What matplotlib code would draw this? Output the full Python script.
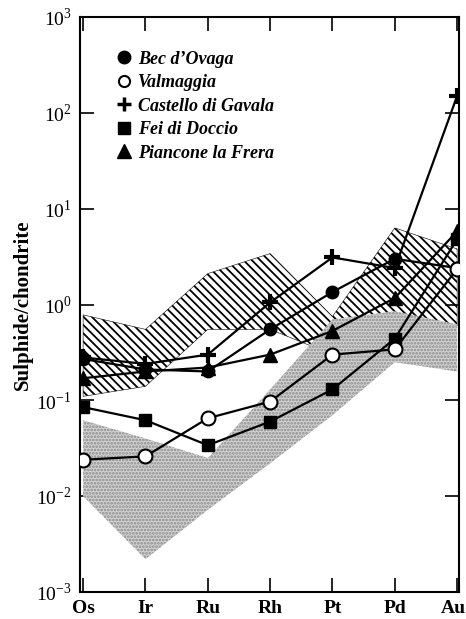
import numpy as np
import matplotlib
matplotlib.use("Agg")
import matplotlib.pyplot as plt
import matplotlib.transforms as mtransforms
from matplotlib.lines import Line2D

plt.rcParams['font.family'] = ['Liberation Serif', 'DejaVu Serif']
plt.rcParams['mathtext.fontset'] = 'custom'
plt.rcParams['mathtext.rm'] = 'Liberation Serif'
plt.rcParams['hatch.linewidth'] = 1.3

elements = ['Os', 'Ir', 'Ru', 'Rh', 'Pt', 'Pd', 'Au']

# sample series (sulphide / chondrite)
bec = [0.27, 0.21, 0.20, 0.55, 1.35, 3.0, 2.4]
valmaggia = [0.024, 0.026, 0.065, 0.097, 0.30, 0.34, 2.35]
castello = [0.28, 0.24, 0.30, 1.05, 3.1, 2.4, 150]
fei = [0.085, 0.062, 0.034, 0.060, 0.13, 0.44, 4.8]
piancone = [0.17, 0.20, 0.22, 0.30, 0.53, 1.17, 5.8]

# hatched field
hatch_upper = [0.78, 0.55, 2.1, 3.4, 0.75, 6.3, 3.8]
hatch_lower = [0.11, 0.14, 0.55, 0.55, 0.30, 0.70, 0.60]

# stippled field
stip_upper = [0.062, 0.040, 0.025, 0.13, 0.70, 0.85, 0.62]
stip_lower = [0.010, 0.0022, 0.0072, 0.022, 0.070, 0.25, 0.20]

x = np.arange(len(elements))

fig = plt.figure(figsize=(4.66, 6.19), dpi=100)
ax = fig.add_axes([80/466, 1-592/619, 379/466, 575/619])

ax.fill_between(x, hatch_lower, hatch_upper, facecolor='white', edgecolor='black',
                hatch='\\\\\\\\', linewidth=0.4, zorder=1)
ax.fill_between(x, stip_lower, stip_upper, facecolor='#d2d2d2', edgecolor='#8a8a8a',
                hatch='.....', linewidth=0, zorder=2)

lw = 1.6
ax.plot(x, bec, '-o', color='black', lw=lw, ms=9, mfc='black', zorder=5)
ax.plot(x, valmaggia, '-o', color='black', lw=lw, ms=10, mfc='white', mew=1.5, zorder=6)
ax.plot(x, castello, '-+', color='black', lw=lw, ms=12, mew=3, zorder=5)
ax.plot(x, fei, '-s', color='black', lw=lw, ms=9, mfc='black', zorder=5)
ax.plot(x, piancone, '-^', color='black', lw=lw, ms=10, mfc='black', zorder=4)

ax.set_yscale('log')
ax.set_ylim(1e-3, 1e3)
ax.set_xlim(-0.05, 6.03)
ax.set_xticks(x)
ax.set_xticklabels(elements, fontsize=14, fontweight='bold')
yt = [1e-3, 1e-2, 1e-1, 1e0, 1e1, 1e2, 1e3]
ax.set_yticks(yt)
ax.set_yticklabels(['$10^{%d}$' % p for p in range(-3, 4)], fontsize=14)
ax.minorticks_off()
ax.tick_params(direction='in', length=10, width=1.2, top=True, right=True)
ax.tick_params(axis='x', pad=6)
ax.tick_params(axis='y', pad=6)
for s in ax.spines.values():
    s.set_linewidth(1.5)

# keep the last label inside the figure
au = ax.get_xticklabels()[-1]
au.set_transform(au.get_transform() + mtransforms.ScaledTranslation(-4/100, 0, fig.dpi_scale_trans))

ax.set_ylabel('Sulphide/chondrite', fontsize=15, fontweight='bold', labelpad=2)

handles = [
    Line2D([], [], ls='none', marker='o', color='black', ms=9),
    Line2D([], [], ls='none', marker='o', color='black', mfc='white', mew=1.5, ms=8),
    Line2D([], [], ls='none', marker='+', color='black', ms=10, mew=2.5),
    Line2D([], [], ls='none', marker='s', color='black', ms=9),
    Line2D([], [], ls='none', marker='^', color='black', ms=10),
]
labels = ["Bec d\u2019Ovaga", "Valmaggia", "Castello di Gavala", "Fei di Doccio", "Piancone la Frera"]
ax.legend(handles, labels, loc='upper left', bbox_to_anchor=(0.07, 0.957), frameon=False,
          handlelength=0.9, handletextpad=0.35, borderpad=0, labelspacing=0.36,
          prop={'family': 'Liberation Serif', 'style': 'italic', 'weight': 'bold', 'size': 13})

fig.savefig('out.png', dpi=100)
